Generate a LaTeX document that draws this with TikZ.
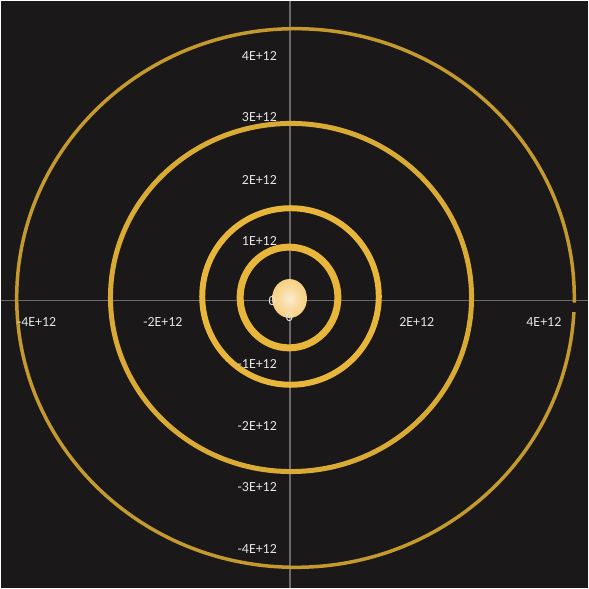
\documentclass[tikz,border=0pt]{standalone}
\usepackage{fontspec}
\setmainfont{Carlito}
\usepackage{tikz}

\definecolor{bgdark}{HTML}{1A1819}
\definecolor{axgray}{HTML}{6A6A6A}
\definecolor{labgray}{HTML}{E4E4E4}
\definecolor{orbout}{HTML}{C49A2E}
\definecolor{orbmid}{HTML}{D9AA34}
\definecolor{orbin}{HTML}{E8B63A}
\definecolor{sunyel}{HTML}{F0BC48}
\definecolor{sunmid}{HTML}{F8D898}
\definecolor{sunpale}{HTML}{FCEBD2}
\pgfdeclareradialshading{sunglow}{\pgfpoint{0bp}{0bp}}{color(0bp)=(sunpale); color(16bp)=(sunmid); color(50bp)=(sunyel)}

\begin{document}
\begin{tikzpicture}[x=1bp, y=1bp,
    tick/.style={text=labgray, font=\fontsize{14}{14}\selectfont, inner sep=0pt},
    axisline/.style={draw=axgray, line width=1.5bp},
    orbit/.style={draw=#1}]
            % background and axes
            \fill[bgdark] (-290,-288.5) rectangle (299,300.5);
            \coordinate (W) at (-290,0);
            \coordinate (E) at (299,0);
            \coordinate (N) at (0,300.5);
            \coordinate (S) at (0,-288.5);
            \draw[axisline] (W) -- (E);
            \draw[axisline] (N) -- (S);

            % orbits
            \draw[orbit=orbout, line width=3.5bp] (5.5,2.5) ++(-1:279.5 and 270) arc[start angle=-1, end angle=357, x radius=279.5, y radius=270];
            \draw[orbit=orbmid, line width=5bp] (1,3) ellipse [x radius=181, y radius=174.5];
            \draw[orbit=orbin, line width=6bp] (0.5,4) ellipse [x radius=88.5, y radius=88.5];
            \draw[orbit=orbin, line width=7bp] (-1,3) ellipse [x radius=49, y radius=50.5];

            % sun
            \shade[shading=sunglow] (-0.5,2) ellipse [x radius=17.5, y radius=19.5];

            % tick labels
            \node[tick, anchor=east] (y4) at (-13,244.8) {4E+12};
            \node[tick, anchor=east] (y3) at (-13,183.5) {3E+12};
            \node[tick, anchor=east] (y2) at (-13,121.2) {2E+12};
            \node[tick, anchor=east] (y1) at (-13,59.5) {1E+12};
            \node[tick, anchor=east] (ym1) at (-13,-63.8) {-1E+12};
            \node[tick, anchor=east] (ym2) at (-13,-125.5) {-2E+12};
            \node[tick, anchor=east] (ym3) at (-13,-186.8) {-3E+12};
            \node[tick, anchor=east] (ym4) at (-13,-248.8) {-4E+12};
            \node[tick] (xm4) at (-254,-21.5) {-4E+12};
            \node[tick] (xm2) at (-127.5,-21.5) {-2E+12};
            \node[tick] (x2) at (127,-21.5) {2E+12};
            \node[tick] (x4) at (254.5,-21.5) {4E+12};
            \node[tick] (y0) at (-18,-1) {0};
            \node[tick] (x0) at (-0.5,-17) {0};
\end{tikzpicture}
\end{document}
